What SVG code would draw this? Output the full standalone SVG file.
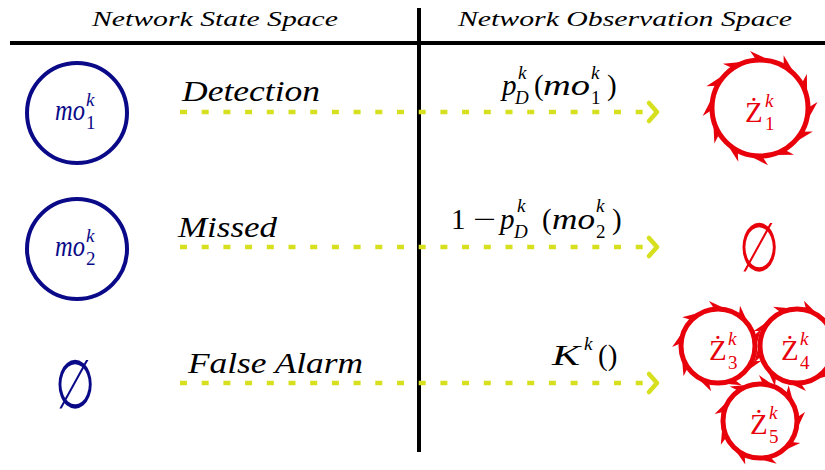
<svg xmlns="http://www.w3.org/2000/svg" xmlns:xlink="http://www.w3.org/1999/xlink" width="825" height="470" viewBox="0 0 825 470" font-family="'Liberation Serif', 'DejaVu Serif', serif">
<style>
text{font-family:'Liberation Serif', 'DejaVu Serif', serif}
.hdr{font-style:italic;font-size:21px;fill:#000}
.lbl{font-style:italic;font-size:30px;fill:#000}
.mi{font-style:italic;font-size:29px;fill:#000}
.mr{font-size:29px;fill:#000}
.si{font-style:italic;font-size:19px;fill:#000}
.sr{font-size:19px;fill:#000}
.bl{fill:#0a0a88}
.rd{fill:#e8000b}
.st{fill:none;stroke:#0a0a88;stroke-width:4}
.ring{fill:none;stroke:#e8000b;stroke-width:5}
.barb{fill:#e8000b}
.arr{fill:none;stroke:#d6e01e;stroke-width:4.5;stroke-dasharray:7 14.7}
.head{fill:none;stroke:#d6e01e;stroke-width:4.5;stroke-linecap:round;stroke-linejoin:round}
.es{font-size:68px}
</style>
<defs>
<path id="barbL" class="barb" d="M -3,-47 L -10,-57 L 7,-49 Z"/>
<path id="barbS" class="barb" d="M -3,-36 L -9,-45 L 6,-38 Z"/>
</defs>
<rect width="825" height="470" fill="#fff"/>

<g id="frame">
<line x1="10" y1="43" x2="825" y2="43" stroke="#000" stroke-width="4"/>
<line x1="419" y1="8" x2="419" y2="452" stroke="#000" stroke-width="4"/>
<text class="hdr" x="92" y="26" textLength="246" lengthAdjust="spacingAndGlyphs">Network State Space</text>
<text class="hdr" x="458" y="26" textLength="334" lengthAdjust="spacingAndGlyphs">Network Observation Space</text>
</g>

<g id="connectors">
<line class="arr" x1="180" y1="112" x2="646" y2="112"/>
<polyline class="head" points="649,103 657,112 649,121"/>
<line class="arr" x1="180" y1="247" x2="646" y2="247"/>
<polyline class="head" points="649,238 657,247 649,256"/>
<line class="arr" x1="180" y1="383" x2="646" y2="383"/>
<polyline class="head" points="649,374 657,383 649,392"/>
<text class="lbl" x="182" y="101" textLength="138" lengthAdjust="spacingAndGlyphs">Detection</text>
<text class="lbl" x="178" y="237" textLength="99" lengthAdjust="spacingAndGlyphs">Missed</text>
<text class="lbl" x="188" y="373" textLength="175" lengthAdjust="spacingAndGlyphs">False Alarm</text>

<g id="lbl-detect">
<text class="mi" x="502" y="95">p</text>
<text class="si" x="518" y="79">k</text>
<text class="si" x="515" y="104">D</text>
<text class="mr" x="534" y="95">(</text>
<text class="mi" x="543" y="95" textLength="47" lengthAdjust="spacingAndGlyphs">mo</text>
<text class="si" x="591" y="79">k</text>
<text class="sr" x="591" y="104">1</text>
<text class="mr" x="607" y="95">)</text>
</g>
<g id="lbl-missed">
<text class="mr" x="451" y="229">1</text>
<text class="mr" x="473" y="229" textLength="23" lengthAdjust="spacingAndGlyphs">−</text>
<text class="mi" x="500" y="229">p</text>
<text class="si" x="517" y="212">k</text>
<text class="si" x="514" y="238">D</text>
<text class="mr" x="542" y="229">(</text>
<text class="mi" x="552" y="229" textLength="43" lengthAdjust="spacingAndGlyphs">mo</text>
<text class="si" x="596" y="212">k</text>
<text class="sr" x="596" y="238">2</text>
<text class="mr" x="612" y="229">)</text>
</g>
<g id="lbl-false">
<text class="mi" x="552" y="365" textLength="28" lengthAdjust="spacingAndGlyphs">K</text>
<text class="si" x="584" y="350">k</text>
<text class="mr" x="598" y="365">()</text>
</g>
</g>

<g id="mo1">
<circle class="st" cx="77" cy="113" r="50"/>
<text class="mi bl" x="55" y="120" font-size="24" textLength="30" lengthAdjust="spacingAndGlyphs">mo</text>
<text class="si bl" x="86" y="106" font-size="14">k</text>
<text class="sr bl" x="86" y="129" font-size="14">1</text>
</g>
<g id="mo2">
<circle class="st" cx="77" cy="249" r="50"/>
<text class="mi bl" x="55" y="256" font-size="24" textLength="30" lengthAdjust="spacingAndGlyphs">mo</text>
<text class="si bl" x="86" y="242" font-size="14">k</text>
<text class="sr bl" x="86" y="265" font-size="14">2</text>
</g>
<g id="empty-state">
<text class="es bl" x="75" y="408" text-anchor="middle" transform="translate(75 0) scale(0.68 1) translate(-75 0)">∅</text>
</g>
<g id="empty-obs">
<text class="es rd" x="759" y="271" text-anchor="middle" transform="translate(759 0) scale(0.68 1) translate(-759 0)">∅</text>
</g>

<g id="Z1">
<circle class="ring" cx="760" cy="108" r="48"/>
<g transform="translate(760 108)">
<use xlink:href="#barbL" transform="rotate(0)"/><use xlink:href="#barbL" transform="rotate(-30)"/><use xlink:href="#barbL" transform="rotate(-58)"/><use xlink:href="#barbL" transform="rotate(-88)"/><use xlink:href="#barbL" transform="rotate(-118)"/><use xlink:href="#barbL" transform="rotate(-148)"/><use xlink:href="#barbL" transform="rotate(-178)"/><use xlink:href="#barbL" transform="rotate(-206)"/><use xlink:href="#barbL" transform="rotate(-236)"/><use xlink:href="#barbL" transform="rotate(-266)"/><use xlink:href="#barbL" transform="rotate(-296)"/><use xlink:href="#barbL" transform="rotate(-326)"/>
</g>
<text class="mr rd" x="745" y="122" font-size="26">Ż</text>
<text class="si rd" x="765" y="107" font-size="15">k</text>
<text class="sr rd" x="765" y="130" font-size="15">1</text>
</g>

<g id="Z3">
<circle class="ring" cx="718" cy="346" r="37"/>
<g transform="translate(718 346)">
<use xlink:href="#barbS" transform="rotate(0)"/><use xlink:href="#barbS" transform="rotate(-40)"/><use xlink:href="#barbS" transform="rotate(-80)"/><use xlink:href="#barbS" transform="rotate(-120)"/><use xlink:href="#barbS" transform="rotate(-160)"/><use xlink:href="#barbS" transform="rotate(-200)"/><use xlink:href="#barbS" transform="rotate(-240)"/><use xlink:href="#barbS" transform="rotate(-280)"/><use xlink:href="#barbS" transform="rotate(-320)"/>
</g>
<text class="mr rd" x="709" y="360" font-size="26">Ż</text>
<text class="si rd" x="728" y="345" font-size="15">k</text>
<text class="sr rd" x="728" y="369" font-size="15">3</text>
</g>
<g id="Z4">
<circle class="ring" cx="797" cy="346" r="37"/>
<g transform="translate(797 346)">
<use xlink:href="#barbS" transform="rotate(20)"/><use xlink:href="#barbS" transform="rotate(-20)"/><use xlink:href="#barbS" transform="rotate(-60)"/><use xlink:href="#barbS" transform="rotate(-100)"/><use xlink:href="#barbS" transform="rotate(-140)"/><use xlink:href="#barbS" transform="rotate(-180)"/><use xlink:href="#barbS" transform="rotate(-220)"/><use xlink:href="#barbS" transform="rotate(-260)"/><use xlink:href="#barbS" transform="rotate(-300)"/>
</g>
<text class="mr rd" x="781" y="360" font-size="26">Ż</text>
<text class="si rd" x="800" y="345" font-size="15">k</text>
<text class="sr rd" x="800" y="369" font-size="15">4</text>
</g>
<g id="Z5">
<circle class="ring" cx="760" cy="421" r="37"/>
<g transform="translate(760 421)">
<use xlink:href="#barbS" transform="rotate(10)"/><use xlink:href="#barbS" transform="rotate(-30)"/><use xlink:href="#barbS" transform="rotate(-70)"/><use xlink:href="#barbS" transform="rotate(-110)"/><use xlink:href="#barbS" transform="rotate(-150)"/><use xlink:href="#barbS" transform="rotate(-190)"/><use xlink:href="#barbS" transform="rotate(-230)"/><use xlink:href="#barbS" transform="rotate(-270)"/><use xlink:href="#barbS" transform="rotate(-310)"/>
</g>
<text class="mr rd" x="750" y="434" font-size="26">Ż</text>
<text class="si rd" x="769" y="419" font-size="15">k</text>
<text class="sr rd" x="769" y="443" font-size="15">5</text>
</g>
</svg>
